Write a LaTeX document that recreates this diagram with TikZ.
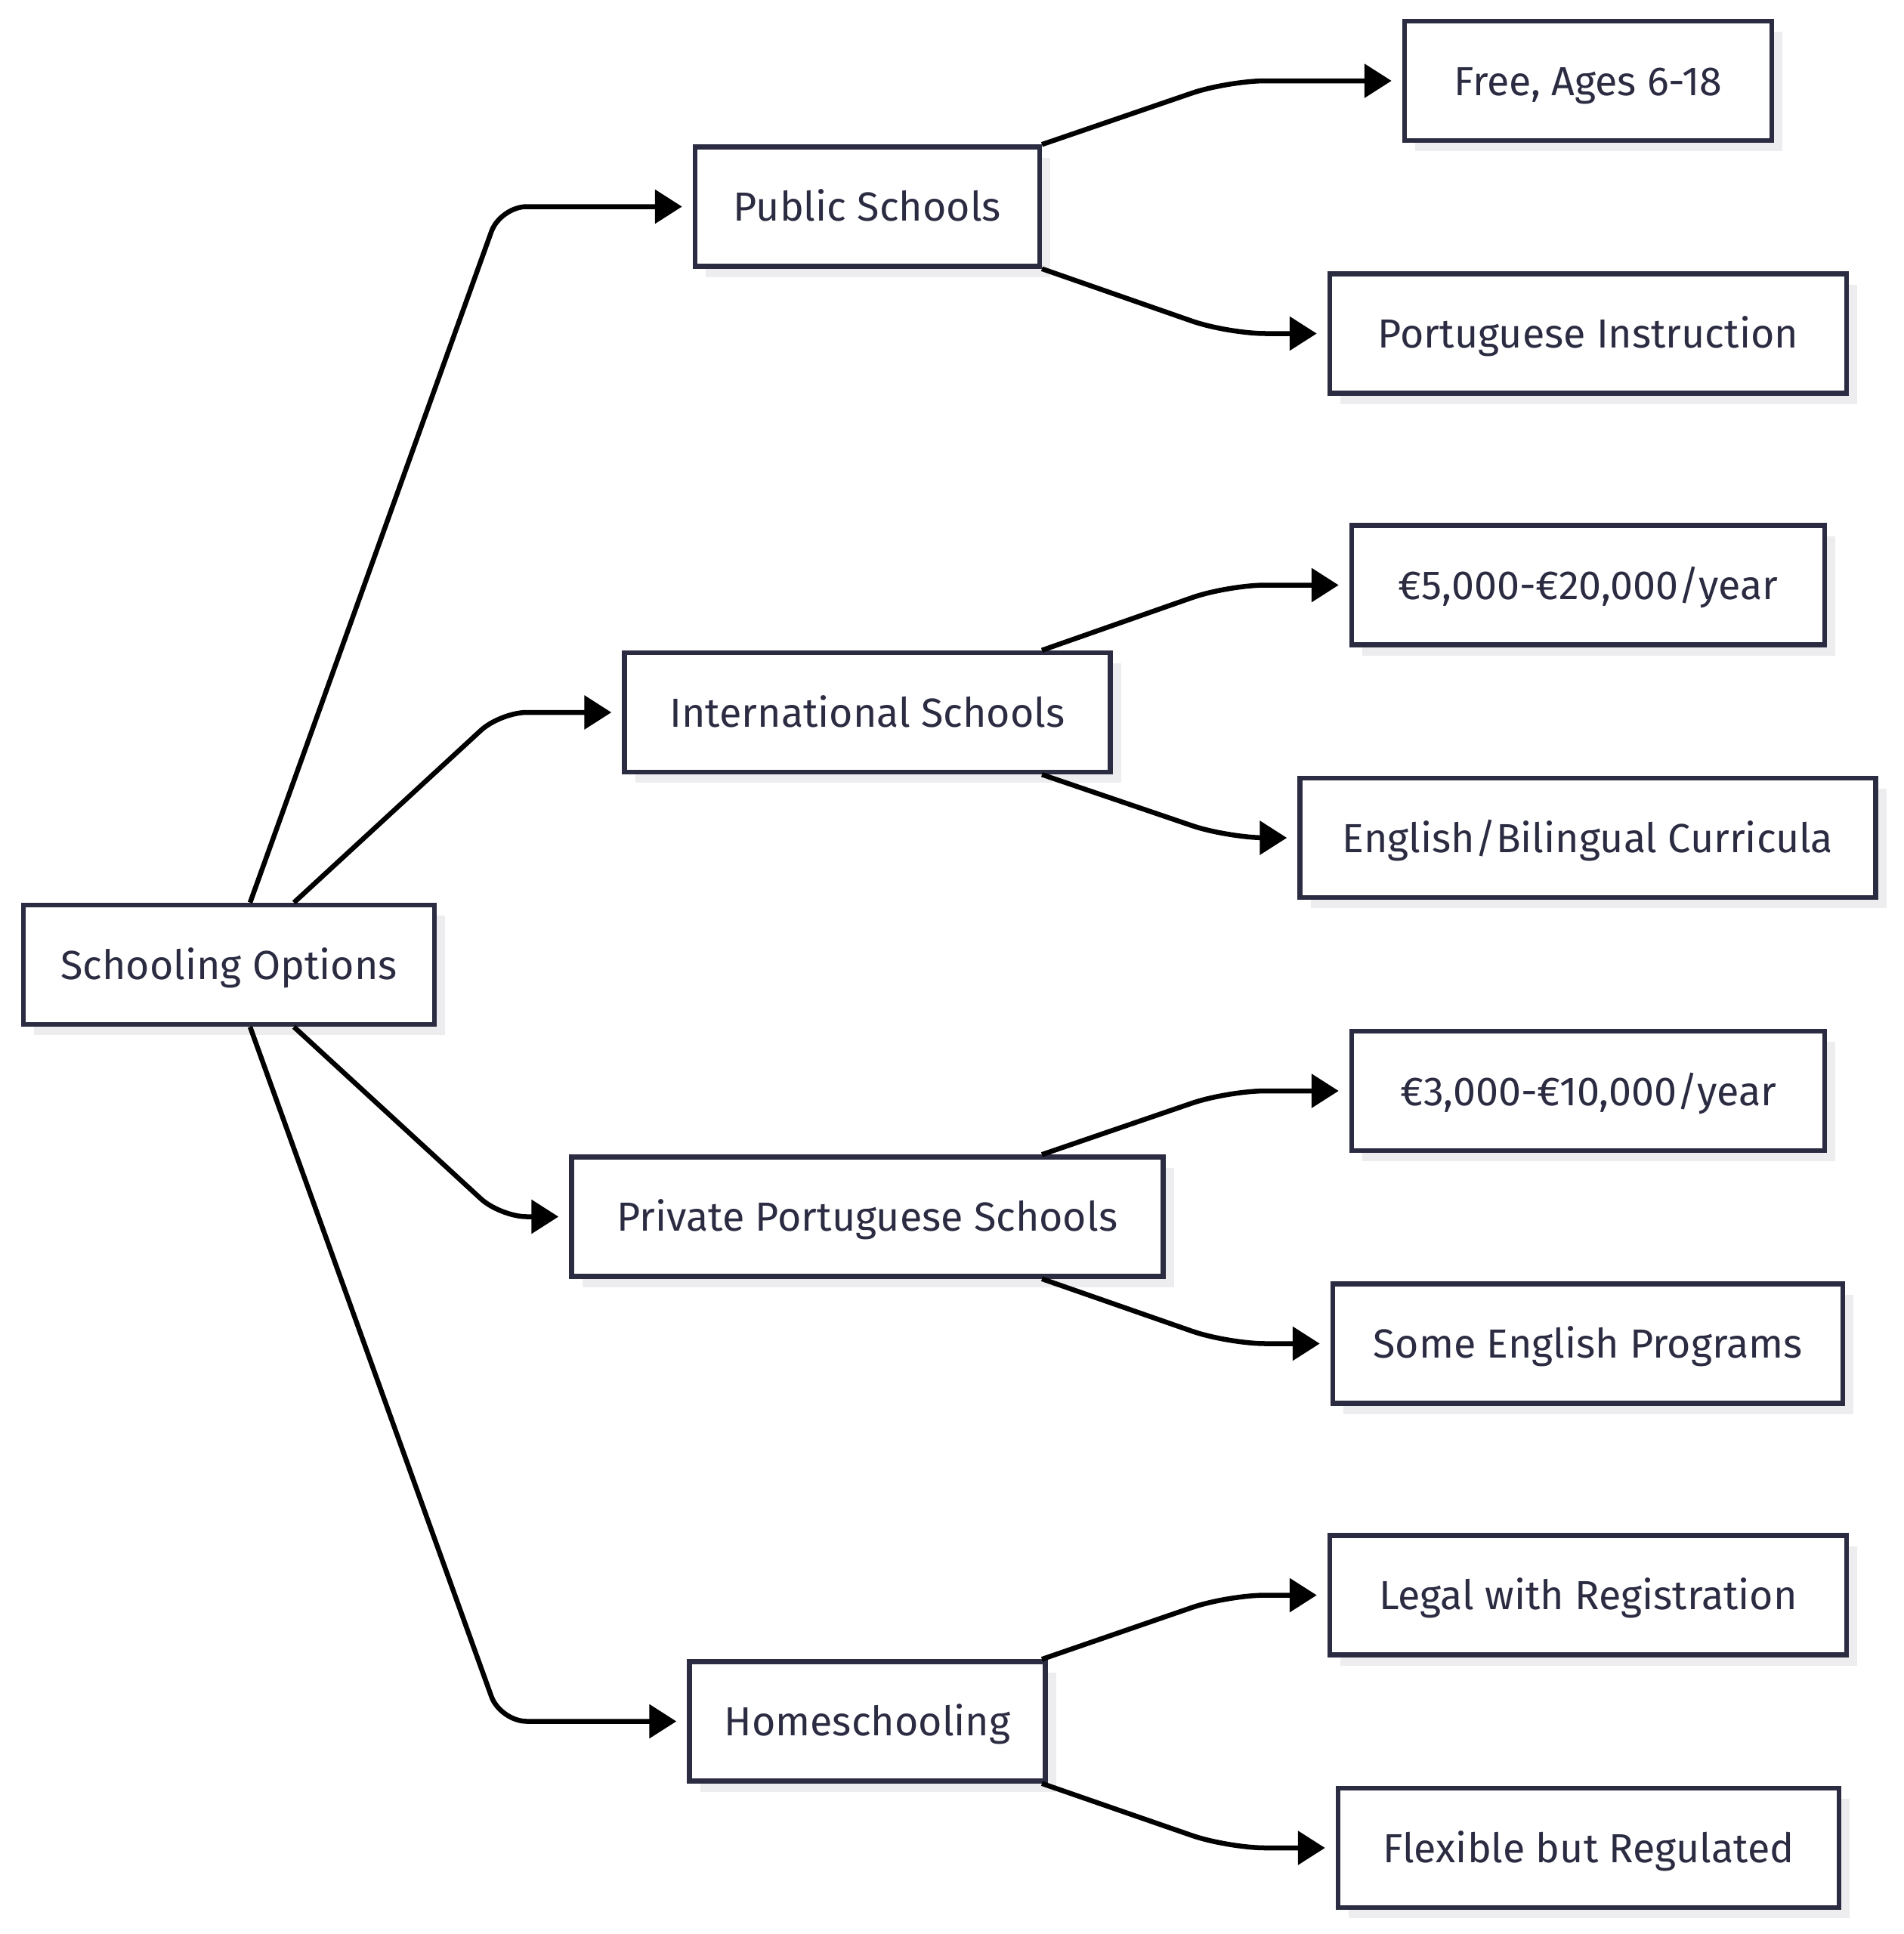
\documentclass[tikz,border=0pt]{standalone}
\usepackage{fontspec}
\setmainfont{Fira Sans}
\usetikzlibrary{arrows.meta,calc,shadows}
\definecolor{cNavy}{HTML}{2B2B42}
\definecolor{cShade}{HTML}{EDEDEF}
\tikzset{
  optbox/.style={draw=cNavy, line width=0.065cm, fill=white, text=cNavy,
                 inner xsep=0.4cm, minimum height=1.58cm,
                 text height=14pt, text depth=3pt,
                 font=\fontsize{15.3}{18}\selectfont,
                 drop shadow={shadow xshift=0.14cm, shadow yshift=-0.14cm,
                              fill=cShade, opacity=1}},
  ar/.style={-{Triangle[length=0.36cm, width=0.44cm]}, line width=0.065cm,
             shorten >=0.14cm},
  rootar/.style={ar, rounded corners=0.35cm},
  kidar/.style={ar, rounded corners=0.5cm},
}

\begin{document}
\begin{tikzpicture}
    \fill[white] (0,0) rectangle (25.19,-25.6);
    \useasboundingbox (0,0) rectangle (25.19,-25.6);

    \node[optbox, minimum width=5.44cm] (root) at (3.03,-12.77) {Schooling Options};

    \node[optbox, minimum width=4.56cm] (pub)  at (11.48,-2.735)  {Public Schools};
    \node[optbox, minimum width=6.43cm] (intl) at (11.48,-9.43)   {International Schools};
    \node[optbox, minimum width=7.83cm] (priv) at (11.48,-16.105) {Private Portuguese Schools};
    \node[optbox, minimum width=4.71cm] (home) at (11.48,-22.785) {Homeschooling};

    \node[optbox, minimum width=4.86cm] (free)    at (21.02,-1.07)   {Free, Ages 6-18};
    \node[optbox, minimum width=6.84cm] (ptinstr) at (21.02,-4.415)  {Portuguese Instruction};
    \node[optbox, minimum width=6.26cm] (fee20)   at (21.02,-7.745)  {€5,000-€20,000/year};
    \node[optbox, minimum width=7.62cm] (engbil)  at (21.015,-11.09) {English/Bilingual Curricula};
    \node[optbox, minimum width=6.26cm] (fee10)   at (21.02,-14.44)  {€3,000-€10,000/year};
    \node[optbox, minimum width=6.75cm] (someeng) at (21.015,-17.785) {Some English Programs};
    \node[optbox, minimum width=6.84cm] (legal)   at (21.02,-21.115) {Legal with Registration};
    \node[optbox, minimum width=6.63cm] (flex)    at (21.025,-24.46) {Flexible but Regulated};

    \coordinate (rj) at ($(root.east)+(0.84,0)$);
    \draw[rootar] ([xshift=0.28cm]root.north) -- (rj |- pub.west) -- (pub.west);
    \draw[rootar] ([xshift=0.86cm]root.north) -- (rj |- intl.west) -- (intl.west);
    \draw[rootar] ([xshift=0.86cm]root.south) -- (rj |- priv.west) -- (priv.west);
    \draw[rootar] ([xshift=0.28cm]root.south) -- (rj |- home.west) -- (home.west);

    \foreach \p/\a/\b in {pub/free/ptinstr, intl/fee20/engbil,
                          priv/fee10/someeng, home/legal/flex} {
      \draw[kidar] ([xshift=2.31cm]\p.north) -- ([xshift=4.77cm]\p.north |- \a.west) -- (\a.west);
      \draw[kidar] ([xshift=2.31cm]\p.south) -- ([xshift=4.77cm]\p.south |- \b.west) -- (\b.west);
    }
\end{tikzpicture}
\end{document}
